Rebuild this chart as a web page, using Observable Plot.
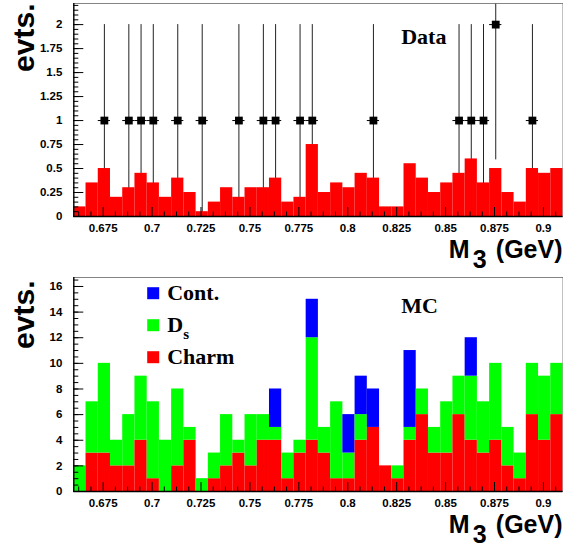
<!DOCTYPE html>
<html><head><meta charset="utf-8">
<script src="https://cdn.jsdelivr.net/npm/d3@7"></script>
<script src="https://cdn.jsdelivr.net/npm/@observablehq/plot@0.6"></script>
<style>
html,body{margin:0;padding:0;background:#fff;}
#chart svg{display:block;}
</style></head><body><div id="chart"></div>
<script>
// ---- data ----
const binStart = 0.66;
const binWidth = 0.00625;
// top panel: MC expectation (scaled), 40 bins
const expectHist = [0.1,0.35,0.5,0.2,0.3,0.45,0.35,0.2,0.4,0.25,
                    0.05,0.15,0.3,0.2,0.3,0.3,0.4,0.15,0.2,0.75,
                    0.25,0.35,0.3,0.45,0.4,0.1,0.1,0.55,0.4,0.25,
                    0.35,0.45,0.6,0.35,0.5,0.25,0.15,0.5,0.45,0.5];
// bottom panel: MC stacked components, 40 bins
const charm = [0,3,3,2,2,4,1,0,2,4, 0,1,2,3,2,4,4,1,3,4, 3,1,1,4,5,2,1,4,6,3, 3,6,4,3,4,2,1,6,4,6];
const dsMC  = [2,4,7,2,4,5,6,4,6,1, 1,2,4,1,4,2,1,2,1,8, 2,6,2,2,0,0,1,1,2,2, 4,3,5,4,6,3,2,4,5,4];
const cont  = [0,0,0,0,0,0,0,0,0,0, 0,0,0,0,0,0,3,0,0,3, 0,0,3,3,3,0,0,6,0,0, 0,0,3,0,0,0,0,0,0,0];
// data points
const dataM3   = [0.675625,0.688125,0.694375,0.700625,0.713125,0.725625,0.744375,0.756875,0.763125,
                  0.775625,0.781875,0.813125,0.856875,0.863125,0.869375,0.875625,0.894375];
const dataEvts = [1,1,1,1,1,1,1,1,1,1,1,1,1,1,1,2,1];
const dataErr  = [1,1,1,1,1,1,1,1,1,1,1,1,1,1,1,1.41,1];
// axis ticks
const xMajor = [0.675,0.7,0.725,0.75,0.775,0.8,0.825,0.85,0.875,0.9];
const yTopMajor = [0,0.25,0.5,0.75,1,1.25,1.5,1.75,2];
const yBotMajor = [0,2,4,6,8,10,12,14,16];
const seriesNames = ["Cont.","D","Charm"];
const seriesColors = ["#0000ff","#00ff00","#ff0000"];

// ---- tables built from the arrays ----
const topBins = expectHist.map((v,i)=>({x1: binStart+i*binWidth, x2: binStart+(i+1)*binWidth, y1: 0, y2: v}));
const stackRows = [];
charm.forEach((c,i)=>{
  const x1 = binStart+i*binWidth, x2 = x1+binWidth;
  const d = dsMC[i], b = cont[i];
  if (c>0) stackRows.push({x1,x2,y1:0,y2:c,s:"Charm"});
  if (d>0) stackRows.push({x1,x2,y1:c,y2:c+d,s:"D"});
  if (b>0) stackRows.push({x1,x2,y1:c+d,y2:c+d+b,s:"Cont."});
});
const points = dataM3.map((x,i)=>({x, y: dataEvts[i], lo: dataEvts[i]-dataErr[i], hi: dataEvts[i]+dataErr[i],
  xl: x-binWidth/2, xr: x+binWidth/2}));
const xMinor = d3.range(0.6625, 0.91, 0.00625).filter(v=>!xMajor.some(m=>Math.abs(m-v)<1e-6));
const yTopMinor = d3.range(0, 2.21, 0.05);
const yBotMinor = d3.range(0, 16.7, 0.5);

const sans = "'Liberation Sans', Arial, Helvetica, sans-serif";
const serif = "'Liberation Serif', 'Times New Roman', serif";
const W = 563;
const fmt = d => String(d);

function axes(yMajor, yMinor) {
  return [
    Plot.axisX(xMajor, {tickSize: -9, fill: "none", label: null, stroke: "black"}),
    Plot.axisX(xMinor, {tickSize: -4.5, fill: "none", label: null, stroke: "black"}),
    Plot.axisX(xMajor, {tickSize: 0, tickPadding: 7, tickFormat: fmt, label: null,
      fontSize: 11.5, fontWeight: "bold", fontFamily: sans, fill: "black"}),
    Plot.axisY(yMajor, {tickSize: -10, fill: "none", label: null, stroke: "black"}),
    Plot.axisY(yMinor, {tickSize: -5, fill: "none", label: null, stroke: "black"}),
    Plot.axisY(yMajor, {tickSize: 0, tickPadding: 11.5, tickFormat: fmt, label: null,
      fontSize: 11.5, fontWeight: "bold", fontFamily: sans, fill: "black"}),
    Plot.ruleX([binStart], {stroke: "black", strokeWidth: 1.3}),
    Plot.ruleY([0], {stroke: "black", strokeWidth: 1.3})
  ];
}
function xLabel(dy) {
  const o = {fontFamily: sans, fontWeight: "bold", fontSize: 25, fill: "black", lineAnchor: "bottom"};
  return [
    Plot.text(["M"], {...o, frameAnchor: "bottom-left", dx: 375, dy, textAnchor: "start"}),
    Plot.text(["3"], {...o, frameAnchor: "bottom-left", dx: 399, dy: dy+10, textAnchor: "start"}),
    Plot.text(["(GeV)"], {...o, frameAnchor: "bottom-right", dx: -0.5, dy, textAnchor: "end"})
  ];
}
function yLabel(dy) {
  return Plot.text(["evts."], {frameAnchor: "top-left", dx: -40, dy, rotate: -90, textAnchor: "end",
    lineAnchor: "bottom", fontFamily: sans, fontWeight: "bold", fontSize: 30, fill: "black"});
}

const topChart = Plot.plot({
  width: W, height: 276,
  marginLeft: 73.3, marginRight: 0.5, marginTop: 3, marginBottom: 60,
  style: {background: "white", fontFamily: sans, color: "black"},
  x: {domain: [0.66, 0.91]},
  y: {domain: [0, 2.22]},
  marks: [
    Plot.ruleX(points, {x: "x", y1: "lo", y2: "hi", stroke: "#222", strokeWidth: 1, clip: true}),
    Plot.rect(topBins, {x1: "x1", x2: "x2", y1: "y1", y2: "y2", fill: "#ff0000"}),
    Plot.frame({stroke: "#666", strokeWidth: 0.8}),
    ...axes(yTopMajor, yTopMinor),
    Plot.ruleY(points, {y: "y", x1: "xl", x2: "xr", stroke: "black", strokeWidth: 1}),
    Plot.dot(points, {x: "x", y: "y", symbol: "square", r: 4.4, fill: "black", stroke: "none"}),
    Plot.text(["Data"], {frameAnchor: "top-left", dx: 327.4, dy: 40.3, textAnchor: "start", lineAnchor: "bottom",
      fontFamily: serif, fontWeight: "bold", fontSize: 22, fill: "black"}),
    ...xLabel(41.5),
    yLabel(0)
  ]
});

const legOpts = {fontFamily: serif, fontWeight: "bold", fontSize: 22, fill: "black", textAnchor: "start", lineAnchor: "bottom", frameAnchor: "top-left"};
const legDy = [15.7, 47.7, 79.7];
const bottomChart = Plot.plot({
  width: W, height: 275,
  marginLeft: 73.3, marginRight: 0.5, marginTop: 1, marginBottom: 60,
  style: {background: "white", fontFamily: sans, color: "black"},
  x: {domain: [0.66, 0.91]},
  y: {domain: [0, 16.7]},
  color: {domain: seriesNames, range: seriesColors},
  marks: [
    Plot.rect(stackRows, {x1: "x1", x2: "x2", y1: "y1", y2: "y2", fill: "s"}),
    Plot.frame({stroke: "#666", strokeWidth: 0.8}),
    ...axes(yBotMajor, yBotMinor),
    Plot.text(["MC"], {...legOpts, dx: 327.4, dy: 35.7}),
    ...seriesNames.map((s, i) => Plot.dot([s], {x: null, y: null, frameAnchor: "top-left", dx: 79.4, dy: legDy[i],
      symbol: "square", r: 6.77, fill: d => d, stroke: "none"})),
    Plot.text(["Cont."], {...legOpts, dx: 93.4, dy: 22.3}),
    Plot.text(["D"], {...legOpts, dx: 93.4, dy: 54}),
    Plot.text(["s"], {...legOpts, dx: 109.4, dy: 61, fontSize: 15}),
    Plot.text(["Charm"], {...legOpts, dx: 93.4, dy: 86.3}),
    ...xLabel(41.7),
    yLabel(3)
  ]
});

document.getElementById("chart").append(topChart, bottomChart);
</script></body></html>
